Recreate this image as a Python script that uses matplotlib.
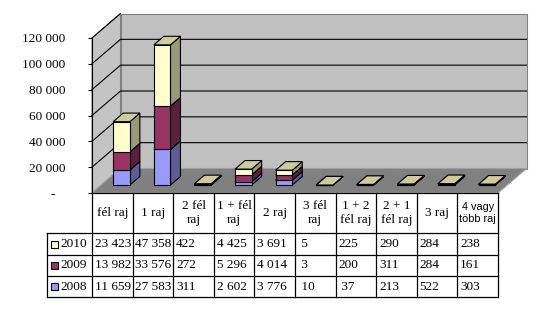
import numpy as np
import matplotlib
matplotlib.use('Agg')
import matplotlib.pyplot as plt
from matplotlib.patches import Polygon, Rectangle
from matplotlib.lines import Line2D
from matplotlib import transforms

categories = ["fél raj", "1 raj", "2 fél\nraj", "1 + fél\nraj", "2 raj", "3 fél\nraj",
              "1 + 2\nfél raj", "2 + 1\nfél raj", "3 raj", "4 vagy\ntöbb raj"]
years = ["2008", "2009", "2010"]
v2008 = [11659, 27583, 311, 2602, 3776, 10, 37, 213, 522, 303]
v2009 = [13982, 33576, 272, 5296, 4014, 3, 200, 311, 284, 161]
v2010 = [23423, 47358, 422, 4425, 3691, 5, 225, 290, 284, 238]
series = [v2008, v2009, v2010]
front_cols = ["#9999ff", "#993366", "#ffffcc"]
side_cols = ["#5c5c99", "#5c1f3d", "#999977"]
top_cols = ["#7a7acc", "#7a2952", "#cccc9f"]
yticks = [0, 20000, 40000, 60000, 80000, 100000, 120000]

W, H = 553, 321
DX, DY = 28.5, 24.5          # depth offset in pixels
D0, D1 = 0.325, 0.675        # bar depth range
FONT = "Liberation Serif"

fig = plt.figure(figsize=(W / 100, H / 100), dpi=100)
ax = fig.add_axes([92 / W, 128 / H, 406 / W, 155 / H])
ax.set_xlim(0, 10)
ax.set_ylim(0, 120000)
ax.patch.set_visible(False)
for s in ["top", "right", "bottom"]:
    ax.spines[s].set_visible(False)
ax.spines["left"].set_zorder(20)
ax.set_xticks([])
ax.set_yticks(yticks)
ax.set_yticklabels(["%d 000" % (t // 1000) if t else "-   " for t in yticks],
                   fontfamily=FONT, fontsize=9.5)
ax.tick_params(axis="y", direction="out", length=3, width=0.8, pad=16)


def proj(x, v, d):
    p = ax.transData.transform((x, v))
    return (p[0] + d * DX, p[1] + d * DY)


ident = transforms.IdentityTransform()


def poly(pts, fc, ec, z, lw=0.8):
    ax.add_patch(Polygon(pts, closed=True, facecolor=fc, edgecolor=ec, lw=lw,
                         transform=ident, clip_on=False, zorder=z))


top = yticks[-1]
# walls and floor
poly([proj(0, 0, 1), proj(10, 0, 1), proj(10, top, 1), proj(0, top, 1)], "#c0c0c0", "#808080", 1)
poly([proj(0, 0, 0), proj(0, top, 0), proj(0, top, 1), proj(0, 0, 1)], "#c4c4c4", "#808080", 1)
poly([proj(0, 0, 0), proj(10, 0, 0), proj(10, 0, 1), proj(0, 0, 1)], "#808080", "#a0a0a0", 2)
for t in yticks[1:]:
    pts = [proj(0, t, 0), proj(0, t, 1)]
    if t < top:
        pts.append(proj(10, t, 1))
    xs, ys = zip(*pts)
    ax.add_line(Line2D(xs, ys, color="black", lw=0.8, transform=ident, clip_on=False, zorder=3))

# bars (front faces through ax.bar, shifted into depth)
shift = ax.transData + transforms.ScaledTranslation(D0 * DX / 100, D0 * DY / 100, fig.dpi_scale_trans)
x = np.arange(len(categories)) + 0.5
bottom = np.zeros(len(categories))
z = 5
for k, vals in enumerate(series):
    bars = ax.bar(x, vals, 0.41, bottom=bottom, color=front_cols[k], edgecolor="black",
                  lw=0.8, transform=shift, clip_on=False, zorder=z + 2)
    for r in bars:
        x0, y0, w, h = r.get_x(), r.get_y(), r.get_width(), r.get_height()
        x1, y1 = x0 + w, y0 + h
        poly([proj(x1, y0, D0), proj(x1, y1, D0), proj(x1, y1, D1), proj(x1, y0, D1)],
             side_cols[k], "black", z + 1)
        poly([proj(x0, y1, D0), proj(x1, y1, D0), proj(x1, y1, D1), proj(x0, y1, D1)],
             top_cols[k], "black", z + 1)
    bottom = bottom + np.array(vals)
    z += 3
ax.set_xlim(0, 10)
ax.set_ylim(0, 120000)

# data table
def fy(py):
    return (H - py) / H

tb = transforms.blended_transform_factory(ax.transData, fig.transFigure)
rows_y = [193, 233, 255, 276, 297]
LX = -1.11
lines = [([0, 10], [rows_y[0]] * 2)]
for ry in rows_y[1:]:
    lines.append(([LX, 10], [ry] * 2))
for i in range(11):
    lines.append(([i, i], [rows_y[0], rows_y[-1]]))
lines.append(([LX, LX], [rows_y[1], rows_y[-1]]))
for xs, ys in lines:
    ax.add_line(Line2D(xs, [fy(v) for v in ys], color="black", lw=0.9, transform=tb,
                       clip_on=False, zorder=30))

for i, c in enumerate(categories):
    yc = fy((rows_y[0] + rows_y[1]) / 2)
    if c.startswith("4 vagy"):
        ax.text(i + 0.5, yc, c, transform=tb, ha="center", va="center", fontsize=7.8,
                fontfamily="Liberation Sans", linespacing=1.15)
    else:
        ax.text(i + 0.5, yc, c, transform=tb, ha="center", va="center", fontsize=9.5,
                fontfamily=FONT, linespacing=1.3)

order = [2, 1, 0]
for r, k in enumerate(order):
    yc = fy((rows_y[r + 1] + rows_y[r + 2]) / 2)
    ax.add_patch(Rectangle((LX + 0.1, yc - 3.5 / H), 0.17, 7 / H, transform=tb,
                           facecolor=front_cols[k], edgecolor="black", lw=0.8,
                           clip_on=False, zorder=31))
    ax.text(LX + 0.33, yc, years[k], transform=tb, ha="left", va="center",
            fontsize=9.5, fontfamily=FONT)
    for i, v in enumerate(series[k]):
        s = "{:,}".format(v).replace(",", " ")
        if v < 100:
            s = " " + s
        ax.text(i + 0.07, yc, s, transform=tb, ha="left", va="center",
                fontsize=9.5, fontfamily=FONT)

fig.savefig("out.png", dpi=100)
